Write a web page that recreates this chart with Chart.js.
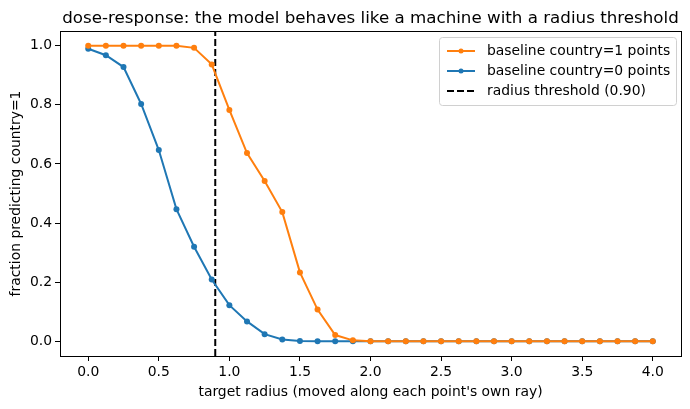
<!DOCTYPE html>
<html>
<head>
<meta charset="utf-8">
<script src="https://cdn.jsdelivr.net/npm/chart.js@4.4.1/dist/chart.umd.min.js"></script>
<style>
  html, body { margin: 0; padding: 0; background: #fff; }
  #wrap { width: 690px; height: 409px; }
</style>
</head>
<body>
<div id="wrap"><canvas id="chart"></canvas></div>
<script>
/* global Chart */
const radii = [
  0, 0.125, 0.25, 0.375, 0.5, 0.625, 0.75, 0.875, 1.0, 1.125, 1.25, 1.375,
  1.5, 1.625, 1.75, 1.875, 2.0, 2.125, 2.25, 2.375, 2.5, 2.625, 2.75, 2.875,
  3.0, 3.125, 3.25, 3.375, 3.5, 3.625, 3.75, 3.875, 4.0,
];
const fracBaseline1 = [
  1.0, 1.0, 1.0, 1.0, 1.0, 1.0, 0.993, 0.937, 0.783, 0.637, 0.542, 0.437,
  0.233, 0.107, 0.021, 0.003, 0, 0, 0, 0, 0, 0, 0, 0,
  0, 0, 0, 0, 0, 0, 0, 0, 0,
];
const fracBaseline0 = [
  0.99, 0.968, 0.928, 0.803, 0.647, 0.447, 0.32, 0.209, 0.122, 0.067, 0.024, 0.006,
  0.001, 0, 0, 0, 0, 0, 0, 0, 0, 0, 0, 0,
  0, 0, 0, 0, 0, 0, 0, 0, 0,
];
const threshold = 0.9;
const xTicks = [0, 0.5, 1.0, 1.5, 2.0, 2.5, 3.0, 3.5, 4.0];
const yTicks = [0, 0.2, 0.4, 0.6, 0.8, 1.0];
const chartTitle = "dose-response: the model behaves like a machine with a radius threshold";

const font = "'DejaVu Sans', sans-serif";
const orange = "#ff7f0e";
const blue = "#1f77b4";

const toPoints = (ys) => radii.map((x, i) => ({ x, y: ys[i] }));

// matplotlib-style frame around the plot area, title centred over the axes
const framePlugin = {
  id: "frame",
  afterDatasetsDraw(chart) {
    const { ctx, chartArea: a } = chart;
    ctx.save();
    ctx.strokeStyle = "#000";
    ctx.lineWidth = 1;
    ctx.strokeRect(a.left + 0.5, a.top + 0.5, a.right - a.left, a.bottom - a.top);
    ctx.fillStyle = "#000";
    ctx.font = `16.7px ${font}`;
    ctx.textAlign = "center";
    ctx.textBaseline = "alphabetic";
    ctx.fillText(chartTitle, (a.left + a.right) / 2, a.top - 8);
    ctx.restore();
  },
};

// legend drawn inside the plot, top-right, like the original
const insideLegend = {
  id: "insideLegend",
  afterDraw(chart) {
    const { ctx, chartArea: a } = chart;
    const sets = chart.data.datasets;
    const lineH = 20;
    const boxW = 237;
    const boxH = sets.length * lineH + 8;
    const x0 = a.right - boxW - 5;
    const y0 = a.top + 6;
    ctx.save();
    ctx.fillStyle = "rgba(255,255,255,0.8)";
    ctx.strokeStyle = "#d0d0d0";
    ctx.lineWidth = 1;
    ctx.beginPath();
    ctx.roundRect(x0 + 0.5, y0 + 0.5, boxW, boxH, 3);
    ctx.fill();
    ctx.stroke();
    ctx.font = `13.9px ${font}`;
    ctx.textBaseline = "middle";
    sets.forEach((ds, i) => {
      const cy = y0 + 14 + i * lineH;
      ctx.strokeStyle = ds.borderColor;
      ctx.lineWidth = 2;
      ctx.setLineDash(ds.borderDash || []);
      ctx.beginPath();
      ctx.moveTo(x0 + 8, cy);
      ctx.lineTo(x0 + 36, cy);
      ctx.stroke();
      ctx.setLineDash([]);
      if (ds.pointRadius) {
        ctx.fillStyle = ds.borderColor;
        ctx.beginPath();
        ctx.arc(x0 + 22, cy, 2.5, 0, Math.PI * 2);
        ctx.fill();
      }
      ctx.fillStyle = "#000";
      ctx.fillText(ds.label, x0 + 48, cy);
    });
    ctx.restore();
  },
};

new Chart(document.getElementById("chart"), {
  type: "line",
  plugins: [framePlugin, insideLegend],
  data: {
    datasets: [
      {
        label: "baseline country=1 points",
        data: toPoints(fracBaseline1),
        borderColor: orange,
        backgroundColor: orange,
        borderWidth: 2,
        pointRadius: 3,
        pointHoverRadius: 3,
        pointBorderWidth: 0,
      },
      {
        label: "baseline country=0 points",
        data: toPoints(fracBaseline0),
        borderColor: blue,
        backgroundColor: blue,
        borderWidth: 2,
        pointRadius: 3,
        pointHoverRadius: 3,
        pointBorderWidth: 0,
      },
      {
        label: `radius threshold (${threshold.toFixed(2)})`,
        data: [{ x: threshold, y: -0.05 }, { x: threshold, y: 1.05 }],
        borderColor: "#000",
        borderWidth: 2,
        borderDash: [7, 3],
        pointRadius: 0,
      },
    ],
  },
  options: {
    animation: false,
    responsive: true,
    maintainAspectRatio: false,
    layout: { padding: { left: 8, right: 9, top: 31, bottom: 8 } },
    plugins: {
      legend: { display: false },
      tooltip: { enabled: false },
      title: { display: false },
    },
    scales: {
      x: {
        type: "linear",
        min: -0.2,
        max: 4.2,
        afterBuildTicks: (s) => { s.ticks = xTicks.map((v) => ({ value: v })); },
        afterFit: (s) => { s.height = 45; },
        ticks: {
          color: "#000",
          font: { family: font, size: 13.9 },
          padding: 3,
          maxRotation: 0,
          callback: (v) => v.toFixed(1),
        },
        grid: { drawOnChartArea: false, drawTicks: true, tickLength: 5, color: "#000" },
        border: { display: false },
        title: {
          display: true,
          text: "target radius (moved along each point's own ray)",
          color: "#000",
          font: { family: font, size: 13.9 },
          padding: { top: 2, bottom: 0 },
        },
      },
      y: {
        type: "linear",
        min: -0.05,
        max: 1.05,
        afterBuildTicks: (s) => { s.ticks = yTicks.map((v) => ({ value: v })); },
        afterFit: (s) => { s.width = 52; },
        ticks: {
          color: "#000",
          font: { family: font, size: 13.9 },
          padding: 3,
          callback: (v) => v.toFixed(1),
        },
        grid: { drawOnChartArea: false, drawTicks: true, tickLength: 5, color: "#000" },
        border: { display: false },
        title: {
          display: true,
          text: "fraction predicting country=1",
          color: "#000",
          font: { family: font, size: 13.9 },
          padding: { top: 0, bottom: 4 },
        },
      },
    },
  },
});
</script>
</body>
</html>
